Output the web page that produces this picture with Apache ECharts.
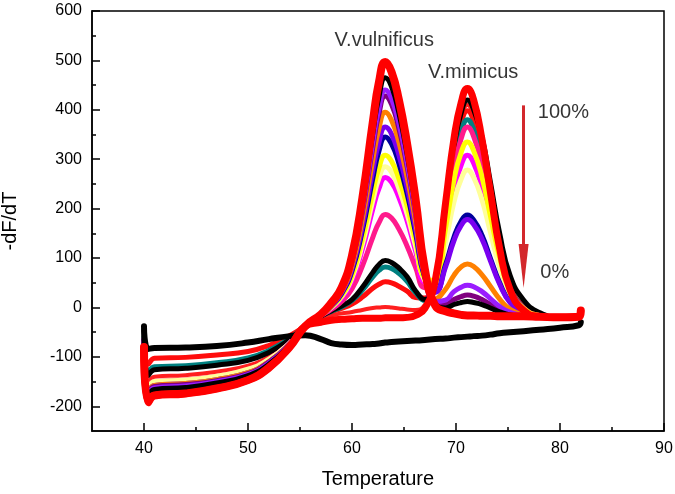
<!DOCTYPE html>
<html><head><meta charset="utf-8">
<script src="https://cdn.jsdelivr.net/npm/echarts@6/dist/echarts.min.js"></script>
<style>html,body{margin:0;padding:0;background:#fff}#c{width:675px;height:494px}</style>
</head><body><div id="c"></div>
<script>
// Temperature sample points (shared by all curves)
const temperature = [40, 40.4, 41, 44, 47, 50, 52, 54, 55.5, 57, 58, 59, 60, 61, 62, 62.6, 63.2, 63.8, 64.5, 65.3, 66.1, 67, 68, 69, 69.8, 70.5, 71.1, 71.7, 72.5, 73.3, 74.2, 75.2, 76.5, 78, 80, 81.8, 82];

// -dF/dT curves
const redA    = [-80,-192,-178,-174,-164,-147,-122,-80,-38,-14,9,40,105,222,375,457,497,477,421,331,221,78,4,-8,-12,-15,-16,-16,-17,-17,-18,-18,-18,-19,-20,-19,-6];
const blackB  = [-65,-178,-166,-162,-153,-138,-115,-76,-38,-14,7,40,102,211,353,427,465,447,394,310,206,73,8,-1,6,10,12,10,6,-1,-9,-15,-18,-20,-20,-18,-8];
const violetC = [-65,-175,-163,-159,-150,-136,-113,-75,-38,-14,6,37,96,200,334,404,440,423,373,293,195,71,12,15,32,41,45,42,32,18,2,-10,-17,-19,-20,-18,-8];
const purpleD = [-65,-172,-160,-156,-148,-134,-111,-75,-38,-14,6,36,93,194,324,393,428,411,363,285,190,68,8,6,16,22,25,23,16,6,-5,-13,-18,-20,-20,-18,-8];
const orangeE = [-65,-170,-158,-154,-146,-132,-110,-74,-38,-15,5,33,85,179,299,363,395,379,335,263,175,65,17,37,65,82,88,83,66,43,17,-4,-15,-19,-20,-18,-8];
const violetF = [-65,-170,-158,-154,-146,-132,-110,-74,-38,-15,3,30,79,165,277,335,365,351,309,243,161,63,31,82,135,166,178,168,138,95,47,10,-10,-18,-20,-18,-8];
const navyG   = [-65,-172,-160,-156,-148,-134,-111,-75,-38,-15,3,28,74,156,261,317,345,331,292,230,152,60,32,87,142,175,187,177,146,100,50,11,-10,-18,-20,-18,-8];
const yellowH = [-65,-180,-168,-164,-155,-139,-116,-77,-38,-16,1,24,65,139,233,283,308,296,261,205,136,60,55,161,258,314,335,317,264,186,101,33,-2,-16,-20,-18,-8];
const lightI  = [-65,-162,-150,-147,-139,-125,-105,-72,-38,-16,0,22,60,128,216,262,285,274,241,189,125,54,45,132,213,260,278,263,218,153,81,25,-5,-17,-20,-18,-8];
const magentaJ= [-65,-164,-152,-149,-141,-127,-106,-72,-38,-16,-1,19,55,118,199,241,263,253,223,175,115,51,49,147,237,288,308,292,242,170,92,29,-4,-17,-20,-18,-8];
const pinkK   = [-65,-162,-150,-147,-139,-125,-105,-72,-38,-17,-4,12,38,84,142,172,188,181,159,124,82,40,56,175,281,342,365,346,288,203,111,38,-1,-16,-20,-18,-8];
const tealL   = [-60,-132,-120,-118,-112,-102,-87,-63,-38,-18,-8,1,14,35,62,75,82,79,69,53,30,14,50,183,293,356,380,360,300,212,116,40,0,-16,-20,-18,-8];
const blackM  = [-45,-138,-126,-123,-117,-107,-91,-65,-38,-18,-7,3,16,41,71,87,95,91,80,62,34,16,55,203,324,394,420,400,345,255,150,65,15,-10,-20,-18,-8];
const redN    = [-80,-192,-178,-174,-164,-147,-122,-80,-38,-30,-26,-24,-23,-22,-22,-22,-21,-21,-21,-20,-16,-2,54,212,341,415,443,420,340,235,119,36,-6,-18,-20,-18,-8];
const redO    = [-75,-115,-103,-101,-96,-89,-77,-57,-38,-18,-9,-2,7,21,39,47,52,50,43,33,20,19,57,192,307,373,398,377,314,222,122,43,1,-16,-20,-18,-8];
const redP    = [-75,-152,-140,-137,-130,-118,-99,-69,-38,-22,-16,-12,-9,-5,-1,0,1,0,-2,-4,-5,5,52,196,315,384,410,389,324,229,126,45,2,-16,-20,-18,-8];
const blackNTC= [-38,-84,-82,-81,-78,-71,-64,-58,-56,-64,-72,-75,-76,-75,-74,-73,-71,-70,-69,-68,-67,-66,-64,-63,-61,-60,-59,-58,-57,-55,-52,-50,-48,-45,-41,-36,-30];

// Axis ticks
const xMajorTicks = [40, 50, 60, 70, 80, 90];
const xMinorTicks = [45, 55, 65, 75, 85];
const yMajorTicks = [-200, -100, 0, 100, 200, 300, 400, 500, 600];
const yMinorTicks = [-150, -50, 50, 150, 250, 350, 450, 550];

// Annotations
const noteTexts = ['V.vulnificus', 'V.mimicus', '100%', '0%'];
const noteX = [63.1, 71.65, 80.33, 79.5];
const noteY = [541, 475, 395, 71];
const arrowX = 76.5;
const arrowFromY = 409;
const arrowToY = 84;

const FONT = 'Liberation Sans, Arial, sans-serif';

const curves = [
  {data: redP, color: '#ff1f1f', w: 4},
  {data: redO, color: '#ff0d0d', w: 5},
  {data: tealL, color: '#008080', w: 5},
  {data: blackM, color: '#000000', w: 5},
  {data: pinkK, color: '#ff1a8c', w: 5},
  {data: magentaJ, color: '#ff00ff', w: 5},
  {data: lightI, color: '#ffff99', w: 5},
  {data: yellowH, color: '#ffff00', w: 5},
  {data: navyG, color: '#00009c', w: 5},
  {data: violetF, color: '#7a00f0', w: 5},
  {data: orangeE, color: '#ff8000', w: 5},
  {data: purpleD, color: '#800080', w: 5},
  {data: violetC, color: '#9a1cff', w: 5},
  {data: blackB, color: '#000000', w: 5},
  {data: blackNTC, color: '#000000', w: 6},
  {data: redN, color: '#ff0000', w: 7},
  {data: redA, color: '#ff0000', w: 8}
];

const series = curves.map(c => ({
  type: 'line',
  xAxisIndex: 0, yAxisIndex: 0,
  data: temperature.map((t, i) => [t, c.data[i]]),
  showSymbol: false,
  smooth: 0.5,
  lineStyle: {color: c.color, width: c.w, cap: 'round', join: 'round'},
  itemStyle: {color: c.color},
  silent: true
}));

series.push({
  type: 'scatter',
  xAxisIndex: 0, yAxisIndex: 0,
  symbolSize: 0,
  silent: true,
  data: noteTexts.map((t, i) => ({name: t, value: [noteX[i], noteY[i]]})),
  label: {show: true, position: 'inside', formatter: p => p.name, fontSize: 20, color: '#000', fontFamily: FONT},
  markLine: {
    silent: true,
    symbol: ['none', 'triangle'],
    symbolSize: [10, 44],
    label: {show: false},
    lineStyle: {color: '#d3282c', width: 3, type: 'solid'},
    emphasis: {disabled: true},
    data: [[{coord: [arrowX, arrowFromY]}, {coord: [arrowX, arrowToY]}]]
  }
});

const tickStyle = {color: '#000', width: 1.5};
const option = {
  animation: false,
  grid: {left: 92, right: 11, top: 11, bottom: 63, show: true, borderColor: '#000', borderWidth: 1.5,
         containLabel: false, outerBoundsMode: 'none'},
  xAxis: [
    {type: 'value', min: 35, max: 90, position: 'bottom',
     name: 'Temperature', nameLocation: 'middle', nameGap: 38,
     nameTextStyle: {fontSize: 20, color: '#000', fontFamily: FONT},
     axisLine: {show: true, onZero: false, lineStyle: tickStyle},
     axisTick: {show: true, inside: true, length: 8, customValues: xMajorTicks, lineStyle: tickStyle},
     axisLabel: {customValues: xMajorTicks, fontSize: 16, color: '#000', margin: 10, fontFamily: FONT},
     splitLine: {show: false}},
    {type: 'value', min: 35, max: 90, position: 'bottom',
     axisLine: {show: false, onZero: false},
     axisTick: {show: true, inside: true, length: 4, customValues: xMinorTicks, lineStyle: tickStyle},
     axisLabel: {show: false}, splitLine: {show: false}}
  ],
  yAxis: [
    {type: 'value', min: -250, max: 600, position: 'left',
     name: '-dF/dT', nameLocation: 'middle', nameGap: 72,
     nameTextStyle: {fontSize: 20, color: '#000', fontFamily: FONT},
     axisLine: {show: true, onZero: false, lineStyle: tickStyle},
     axisTick: {show: true, inside: true, length: 8, customValues: yMajorTicks, lineStyle: tickStyle},
     axisLabel: {customValues: yMajorTicks, fontSize: 16, color: '#000', margin: 10, fontFamily: FONT},
     splitLine: {show: false}},
    {type: 'value', min: -250, max: 600, position: 'left',
     axisLine: {show: false, onZero: false},
     axisTick: {show: true, inside: true, length: 4, customValues: yMinorTicks, lineStyle: tickStyle},
     axisLabel: {show: false}, splitLine: {show: false}}
  ],
  series: series
};

const chart = echarts.init(document.getElementById('c'), null, {renderer: 'canvas'});
chart.setOption(option);
</script>
</body></html>
